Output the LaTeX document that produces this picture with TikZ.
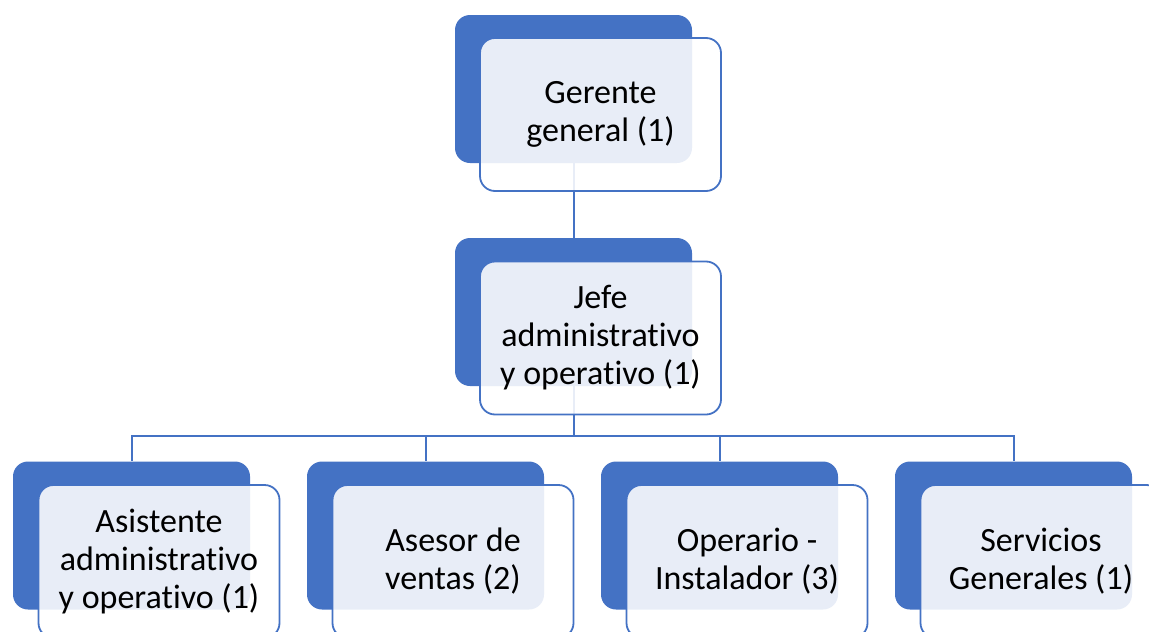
\documentclass[tikz,border=0pt]{standalone}
\usepackage{fontspec}
\setmainfont{Carlito}
\definecolor{orgblue}{HTML}{4472C4}
% keep t and i apart (no ti ligature)
\newcommand{\tinolig}{t\kern0pt i}
\begin{document}
\begin{tikzpicture}
[x=1pt,y=-1pt,
 back/.style={fill=orgblue,rounded corners=15pt,minimum width=237pt,minimum height=148pt,inner sep=0pt},
 front/.style={draw=orgblue,line width=1.8pt,fill=white,fill opacity=0.88,text opacity=1,rounded corners=15pt,
   minimum width=241pt,minimum height=153pt,inner sep=0pt,align=center,font=\fontsize{34}{38}\selectfont},
 conn/.style={draw=orgblue,line width=2pt}]
\useasboundingbox (0,0) rectangle (1149,632);

\node[back] (gerenteBack) at (573.5,89) {};
\node[back] (jefeBack) at (573.5,312) {};
\node[back] (asistenteBack) at (131.5,535.5) {};
\node[back] (asesorBack) at (425.5,535.5) {};
\node[back] (operarioBack) at (719.5,535.5) {};
\node[back] (serviciosBack) at (1013.5,535.5) {};

\draw[conn] (gerenteBack.south) -- (jefeBack.north);
\coordinate (bus) at (573.5,436);
\draw[conn] (jefeBack.south) -- (bus);
\draw[conn] (bus) -| (asistenteBack.north);
\draw[conn] (bus) -| (asesorBack.north);
\draw[conn] (bus) -| (operarioBack.north);
\draw[conn] (bus) -| (serviciosBack.north);

\node[front] (gerente) at (600.5,114.5) {Gerente\\general (1)};
\node[front] (jefe) at (600.5,338) {Jefe\\administra\tinolig vo\\y opera\tinolig vo (1)};
\node[front] (asistente) at (159,561.5) {Asistente\\administra\tinolig vo\\y opera\tinolig vo (1)};
\node[front] (asesor) at (453,561.5) {Asesor de\\ventas (2)};
\node[front] (operario) at (747,561.5) {Operario -\\Instalador (3)};
\node[front] (servicios) at (1041,561.5) {Servicios\\Generales (1)};
\end{tikzpicture}
\end{document}
